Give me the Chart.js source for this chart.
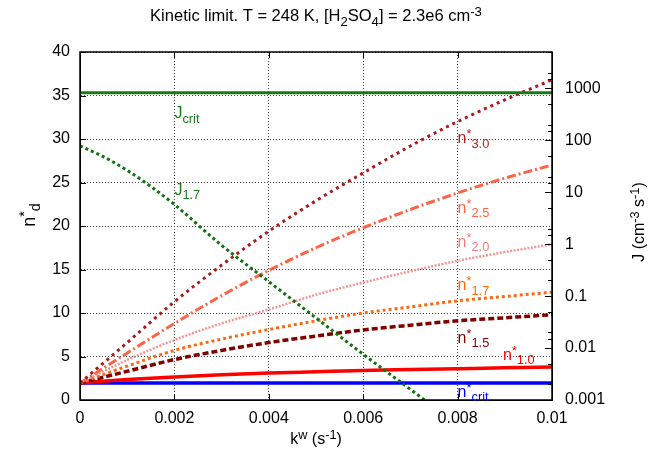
<!DOCTYPE html>
<html><head><meta charset="utf-8">
<script src="https://cdn.jsdelivr.net/npm/chart.js@4/dist/chart.umd.min.js"></script>
<style>html,body{margin:0;padding:0;background:#fff;} canvas{display:block;}</style>
</head><body>
<canvas id="c" width="649" height="452"></canvas>
<script>
// ---- data ----
const kw = [0, 0.001, 0.002, 0.003, 0.004, 0.005, 0.006, 0.007, 0.008, 0.009, 0.01];
const nCrit = [1.95, 1.95, 1.95, 1.95, 1.95, 1.95, 1.95, 1.95, 1.95, 1.95, 1.95];
const n10 = [1.95, 2.35, 2.65, 2.9, 3.1, 3.25, 3.4, 3.5, 3.6, 3.7, 3.78];
const n15 = [1.95, 3.3, 4.65, 5.7, 6.6, 7.35, 8.05, 8.6, 9.1, 9.45, 9.8];
const n17 = [1.95, 3.9, 5.7, 7.0, 8.1, 9.1, 10.0, 10.7, 11.4, 11.9, 12.4];
const n20 = [1.95, 4.6, 6.9, 8.8, 10.4, 12.1, 13.5, 14.8, 16.0, 17.0, 17.9];
const n25 = [1.95, 5.4, 8.8, 12.0, 14.9, 17.5, 19.8, 21.9, 23.8, 25.5, 27.0];
const n30 = [1.95, 6.6, 11.3, 15.5, 19.4, 22.9, 26.1, 29.2, 32.0, 34.5, 36.8];
const jCrit = [820, 820, 820, 820, 820, 820, 820, 820, 820, 820, 820];
const jKw = [0, 0.0005, 0.001, 0.0015, 0.002, 0.003, 0.004, 0.005, 0.006, 0.007, 0.0073];
const j17 = [78, 48, 26.3, 12.9, 5.8, 0.95, 0.19, 0.038, 0.0076, 0.0016, 0.001];
const xTicks = [0, 0.002, 0.004, 0.006, 0.008, 0.01];

const FONT = "'Liberation Sans', Arial, Helvetica, sans-serif";
const pts = (xs, ys) => xs.map((x, i) => ({x: x, y: ys[i]}));

function ds(label, xs, ys, color, width, dash, axis) {
  return {label: label, data: pts(xs, ys), borderColor: color, borderWidth: width,
    borderDash: dash, yAxisID: axis, pointRadius: 0, fill: false,
    cubicInterpolationMode: 'monotone', borderCapStyle: 'butt'};
}

// rich text: parts = [[text, mode]], mode 0 normal, 1 sup, -1 sub
function richWidth(ctx, parts, size) {
  let w = 0;
  parts.forEach(p => { ctx.font = (p[1] ? size * 0.8 : size) + 'px ' + FONT; w += ctx.measureText(p[0]).width; });
  return w;
}
function drawRich(ctx, parts, x, y, size, color, align) {
  ctx.save();
  ctx.fillStyle = color; ctx.textBaseline = 'alphabetic'; ctx.textAlign = 'left';
  let w = richWidth(ctx, parts, size);
  let cx = align === 'center' ? x - w / 2 : x;
  parts.forEach(p => {
    const s = p[1] ? size * 0.8 : size;
    ctx.font = s + 'px ' + FONT;
    const dy = p[1] === 1 ? -size * 0.33 : (p[1] === -1 ? size * 0.28 : 0);
    ctx.fillText(p[0], cx, y + dy);
    cx += ctx.measureText(p[0]).width;
  });
  ctx.restore();
}

const bgPlugin = { id: 'bg', beforeDraw(chart) {
  const c = chart.ctx; c.save(); c.fillStyle = '#fff'; c.fillRect(0, 0, chart.width, chart.height); c.restore();
}};

const decoPlugin = { id: 'deco', afterDatasetsDraw(chart) {
  const ctx = chart.ctx, a = chart.chartArea, sx = chart.scales.x, sy = chart.scales.y, sy2 = chart.scales.y2;
  ctx.save();
  ctx.strokeStyle = '#000'; ctx.lineWidth = 1; ctx.setLineDash([]);
  ctx.beginPath();
  sx.ticks.forEach(t => { const p = Math.round(sx.getPixelForValue(t.value)) + 0.5;
    ctx.moveTo(p, a.bottom); ctx.lineTo(p, a.bottom - 6); ctx.moveTo(p, a.top); ctx.lineTo(p, a.top + 6); });
  sy.ticks.forEach(t => { const p = Math.round(sy.getPixelForValue(t.value)) + 0.5;
    ctx.moveTo(a.left, p); ctx.lineTo(a.left + 6, p); });
  sy2.ticks.forEach(t => {
    const lg = Math.log10(t.value), e = Math.floor(lg + 1e-9), sig = Math.round(t.value / Math.pow(10, e));
    let len = 0;
    if (Math.abs(lg - Math.round(lg)) < 1e-6) len = 7; else if (sig === 2 || sig === 5) len = 4;
    if (!len) return;
    const p = Math.round(sy2.getPixelForValue(t.value)) + 0.5;
    ctx.moveTo(a.right, p); ctx.lineTo(a.right - len, p); });
  ctx.stroke();
  ctx.lineWidth = 1.5;
  ctx.strokeRect(a.left, a.top, a.right - a.left, a.bottom - a.top);
  ctx.restore();

  // in-plot labels, placed in data coordinates
  const L = (parts, xv, yv, color) => drawRich(ctx, parts, sx.getPixelForValue(xv), sy.getPixelForValue(yv), 16, color, 'left');
  L([['J', 0], ['crit', -1]], 0.002, 32.4, '#1a7a1a');
  L([['J', 0], ['1.7', -1]], 0.002, 23.6, '#1a7a1a');
  L([['n', 0], ['*', 1], ['3.0', -1]], 0.008, 29.5, '#b22222');
  L([['n', 0], ['*', 1], ['2.5', -1]], 0.008, 21.5, '#ff6347');
  L([['n', 0], ['*', 1], ['2.0', -1]], 0.008, 17.6, '#f08080');
  L([['n', 0], ['*', 1], ['1.7', -1]], 0.008, 12.6, '#ff6a10');
  L([['n', 0], ['*', 1], ['1.5', -1]], 0.008, 6.55, '#800000');
  L([['n', 0], ['*', 1], ['1.0', -1]], 0.00896, 4.6, '#ff0000');
  L([['n', 0], ['*', 1], ['crit', -1]], 0.008, 0.35, '#0000ff');

  // titles
  const cxp = (a.left + a.right) / 2;
  drawRich(ctx, [['Kinetic limit. T = 248 K, [H', 0], ['2', -1], ['SO', 0], ['4', -1], ['] = 2.3e6 cm', 0], ['-3', 1]], cxp, 21, 16.5, '#000', 'center');
  drawRich(ctx, [['k', 0], ['w', 1], [' (s', 0], ['-1', 1], [')', 0]], cxp, 444, 16, '#000', 'center');
  ctx.save(); ctx.translate(35, 215); ctx.rotate(-Math.PI / 2);
  drawRich(ctx, [['n', 0], ['*', 1], ['d', -1]], 0, 0, 18, '#000', 'center');
  ctx.restore();
  ctx.save(); ctx.translate(644, 222); ctx.rotate(-Math.PI / 2);
  drawRich(ctx, [['J (cm', 0], ['-3', 1], [' s', 0], ['-1', 1], [')', 0]], 0, 0, 16, '#000', 'center');
  ctx.restore();
}};

const gridCol = '#444';
new Chart(document.getElementById('c'), {
  type: 'line',
  data: { datasets: [
    ds('Jcrit', kw, jCrit, '#1a7a1a', 3, [], 'y2'),
    ds('J1.7', jKw, j17, '#117011', 3, [3, 3], 'y2'),
    ds('n3.0', kw, n30, '#a51c1c', 3, [3, 4], 'y'),
    ds('n2.5', kw, n25, '#ff6347', 3, [9, 3, 2, 3], 'y'),
    ds('n2.0', kw, n20, '#f49494', 2.5, [2, 1.5], 'y'),
    ds('n1.7', kw, n17, '#ff6610', 3, [3, 3], 'y'),
    ds('n1.5', kw, n15, '#800000', 3.5, [6, 3], 'y'),
    ds('n1.0', kw, n10, '#ff0000', 3.5, [], 'y'),
    ds('ncrit', kw, nCrit, '#0000ff', 3.5, [], 'y')
  ]},
  options: {
    responsive: false, animation: false, events: [],
    layout: { padding: { top: 52, left: 0, right: 0, bottom: 0 } },
    plugins: { legend: { display: false }, title: { display: false }, tooltip: { enabled: false } },
    scales: {
      x: { type: 'linear', min: 0, max: 0.01,
        afterBuildTicks: s => { s.ticks = xTicks.map(v => ({value: v})); },
        ticks: { callback: v => String(+(+v).toFixed(4)), font: { size: 16, family: FONT }, color: '#000', padding: 9, maxRotation: 0, autoSkip: false },
        grid: { color: gridCol, lineWidth: 1, drawTicks: false },
        border: { dash: [1, 2], color: '#000', width: 1 },
        afterFit: s => { s.height = 52; } },
      y: { position: 'left', min: 0, max: 40,
        ticks: { stepSize: 5, font: { size: 16, family: FONT }, color: '#000', padding: 10 },
        grid: { color: gridCol, lineWidth: 1, drawTicks: false },
        border: { dash: [1, 2], color: '#000', width: 1 },
        afterFit: s => { s.width = 80; } },
      y2: { type: 'logarithmic', position: 'right', min: 0.001, max: 5000,
        ticks: { autoSkip: false, font: { size: 16, family: FONT }, color: '#000', padding: 13,
          callback: v => { const lg = Math.log10(v); if (Math.abs(lg - Math.round(lg)) > 1e-6) return ''; const e = Math.round(lg); return e >= 0 ? String(Math.round(v)) : v.toFixed(-e); } },
        grid: { display: false, drawTicks: false },
        border: { color: '#000', width: 1 },
        afterFit: s => { s.width = 97; } }
    }
  },
  plugins: [bgPlugin, decoPlugin]
});
</script>
</body></html>
